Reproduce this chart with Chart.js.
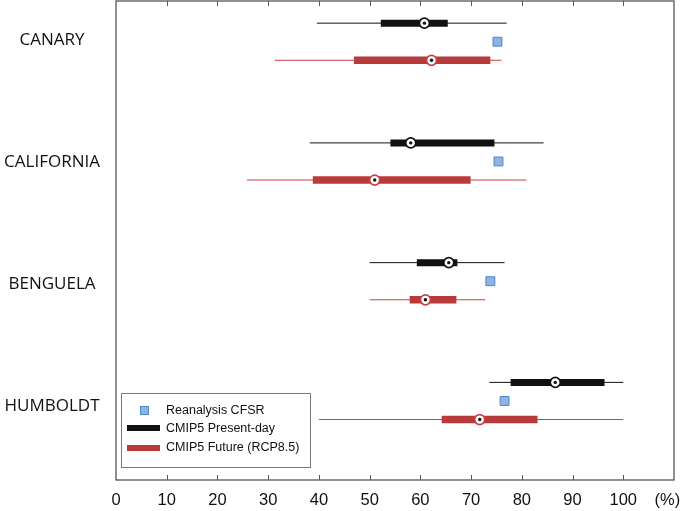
<!DOCTYPE html>
<html>
<head>
<meta charset="utf-8">
<script src="https://cdn.jsdelivr.net/npm/chart.js@4"></script>
<style>
  html, body { margin: 0; padding: 0; background: #ffffff; }
  #wrap { width: 685px; height: 511px; }
</style>
</head>
<body>
<div id="wrap"><canvas id="c" width="685" height="511"></canvas></div>
<script>
// ---- data (values in %) ----
const regions = ['CANARY', 'CALIFORNIA', 'BENGUELA', 'HUMBOLDT'];
const xTicks = [0, 10, 20, 30, 40, 50, 60, 70, 80, 90, 100];
const xUnit = '(%)';

// CMIP5 Present-day: whisker min, box low, median, box high, whisker max
const presMin  = [39.6, 38.2, 50.0, 73.6];
const presQ1   = [52.2, 54.1, 59.3, 77.8];
const presMed  = [60.8, 58.1, 65.6, 86.6];
const presQ3   = [65.4, 74.6, 67.3, 96.3];
const presMax  = [77.0, 84.3, 76.6, 100.0];

// CMIP5 Future (RCP8.5)
const futMin   = [31.3, 25.8, 50.0, 40.0];
const futQ1    = [46.9, 38.8, 57.9, 64.2];
const futMed   = [62.2, 51.0, 61.0, 71.7];
const futQ3    = [73.8, 69.9, 67.1, 83.1];
const futMax   = [76.0, 80.9, 72.8, 100.0];

// Reanalysis CFSR
const cfsr     = [75.2, 75.4, 73.8, 76.6];

const legendLabels = ['Reanalysis CFSR', 'CMIP5 Present-day', 'CMIP5 Future (RCP8.5)'];

// ---- styles ----
const BLACK = '#111111';
const RED_BOX = '#b73b3a';
const RED_LINE = '#c9403f';
const BLUE_FILL = '#8fb3e3';
const BLUE_EDGE = '#4f87c8';
const OFF = 0.155;

function seg(a, b, y) { return [{x: a, y: y}, {x: b, y: y}]; }

const datasets = [];
regions.forEach((r, i) => {
  datasets.push({ data: seg(presMin[i], presMax[i], i - OFF), showLine: true, borderColor: BLACK, borderWidth: 1, pointRadius: 0, order: 10 });
  datasets.push({ data: seg(futMin[i], futMax[i], i + OFF), showLine: true, borderColor: RED_LINE, borderWidth: 1, pointRadius: 0, order: 10 });
  datasets.push({ data: seg(presQ1[i], presQ3[i], i - OFF), showLine: true, borderColor: BLACK, borderWidth: 7, borderCapStyle: 'butt', pointRadius: 0, order: 9 });
  datasets.push({ data: seg(futQ1[i], futQ3[i], i + OFF), showLine: true, borderColor: RED_BOX, borderWidth: 7.5, borderCapStyle: 'butt', pointRadius: 0, order: 9 });
});
datasets.push({ data: presMed.map((v, i) => ({x: v, y: i - OFF})), pointStyle: 'circle', pointRadius: 5, pointBorderWidth: 1.7, pointBackgroundColor: '#ffffff', pointBorderColor: BLACK, order: 5 });
datasets.push({ data: futMed.map((v, i) => ({x: v, y: i + OFF})), pointStyle: 'circle', pointRadius: 5, pointBorderWidth: 1.7, pointBackgroundColor: '#ffffff', pointBorderColor: RED_LINE, order: 5 });
datasets.push({ data: presMed.map((v, i) => ({x: v, y: i - OFF})), pointStyle: 'circle', pointRadius: 1.7, pointBorderWidth: 0, pointBackgroundColor: BLACK, order: 4 });
datasets.push({ data: futMed.map((v, i) => ({x: v, y: i + OFF})), pointStyle: 'circle', pointRadius: 1.7, pointBorderWidth: 0, pointBackgroundColor: BLACK, order: 4 });
datasets.push({ data: cfsr.map((v, i) => ({x: v, y: i})), pointStyle: 'rect', pointRadius: 6.3, pointBorderWidth: 1, pointBackgroundColor: BLUE_FILL, pointBorderColor: BLUE_EDGE, order: 3 });

const decor = {
  id: 'decor',
  afterDraw(chart) {
    const ctx = chart.ctx;
    const a = chart.chartArea;
    const xs = chart.scales.x, ys = chart.scales.y;
    ctx.save();
    // frame
    ctx.strokeStyle = '#555555';
    ctx.lineWidth = 1.3;
    ctx.strokeRect(a.left, a.top, a.right - a.left, a.bottom - a.top);
    // inward ticks
    ctx.lineWidth = 1;
    xTicks.forEach(t => {
      if (t === 0) return;
      const px = Math.round(xs.getPixelForValue(t)) + 0.5;
      ctx.beginPath();
      ctx.moveTo(px, a.bottom); ctx.lineTo(px, a.bottom - 5);
      ctx.moveTo(px, a.top); ctx.lineTo(px, a.top + 5);
      ctx.stroke();
    });
    // unit label
    ctx.fillStyle = '#111111';
    ctx.font = '16.5px "Liberation Sans", Arial, sans-serif';
    ctx.textAlign = 'center';
    ctx.textBaseline = 'middle';
    ctx.fillText(xUnit, xs.getPixelForValue(108.7), 500);
    // region labels
    ctx.font = '17px "Open Sans", "Noto Sans", sans-serif';
    regions.forEach((r, i) => {
      ctx.fillText(r, 52, ys.getPixelForValue(i) - 1.3 + 2 * i);
    });
    // legend
    const lx = 121, ly = 393, lw = 189, lh = 74;
    ctx.fillStyle = '#ffffff';
    ctx.fillRect(lx, ly, lw, lh);
    ctx.strokeStyle = '#7a7a7a';
    ctx.lineWidth = 1;
    ctx.strokeRect(lx + 0.5, ly + 0.5, lw, lh);
    // blue square
    ctx.fillStyle = BLUE_FILL;
    ctx.strokeStyle = BLUE_EDGE;
    ctx.fillRect(140, 406, 8, 8);
    ctx.strokeRect(140.5, 406.5, 8, 8);
    // lines
    ctx.fillStyle = BLACK;
    ctx.fillRect(127, 425, 33, 6);
    ctx.fillStyle = RED_BOX;
    ctx.fillRect(127, 445, 33, 6);
    ctx.fillStyle = '#111111';
    ctx.font = '12.5px "Liberation Sans", Arial, sans-serif';
    ctx.textAlign = 'left';
    ctx.fillText(legendLabels[0], 166, 411);
    ctx.fillText(legendLabels[1], 166, 429);
    ctx.fillText(legendLabels[2], 166, 448);
    ctx.restore();
  }
};

new Chart(document.getElementById('c'), {
  type: 'scatter',
  data: { datasets: datasets },
  options: {
    responsive: false,
    animation: false,
    events: [],
    layout: { autoPadding: false, padding: { left: 116, right: 11, top: 1, bottom: 0 } },
    plugins: { legend: { display: false }, tooltip: { enabled: false } },
    scales: {
      x: {
        type: 'linear', min: 0, max: 110,
        afterBuildTicks(scale) { scale.ticks = xTicks.map(v => ({ value: v })); },
        afterFit(scale) { scale.height = 31; },
        grid: { display: false },
        border: { display: false },
        ticks: {
          padding: 3,
          color: '#111111',
          font: { family: '"Liberation Sans", Arial, sans-serif', size: 16.5 },
          maxRotation: 0, autoSkip: false
        }
      },
      y: {
        type: 'linear', min: -0.34, max: 3.66, reverse: true,
        display: false
      }
    }
  },
  plugins: [decor]
});
</script>
</body>
</html>
